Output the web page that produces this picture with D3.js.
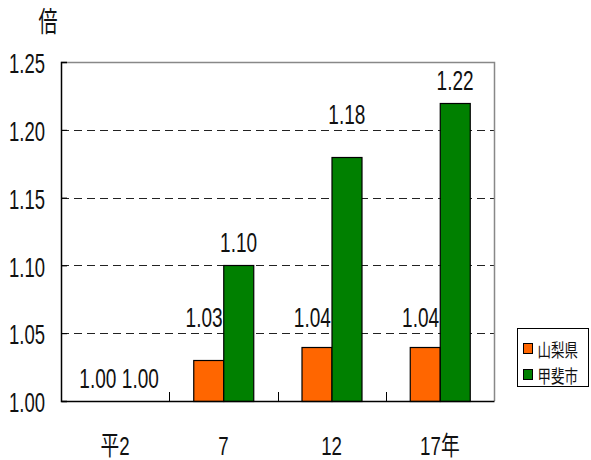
<!DOCTYPE html>
<html>
<head>
<meta charset="utf-8">
<script src="https://cdn.jsdelivr.net/npm/d3@7"></script>
<style>
  body { margin: 0; background: #fff; }
  text { font-family: "Liberation Sans", Arial, "Noto Sans CJK JP", sans-serif; fill: #111; }
</style>
</head>
<body>
<div id="chart"></div>
<script>
// data
var categories = ["平2", "7", "12", "17年"];
var seriesNames = ["山梨県", "甲斐市"];
var yamanashi = [1.00, 1.03, 1.04, 1.04];
var kai = [1.00, 1.10, 1.18, 1.22];
var yTicks = [1.00, 1.05, 1.10, 1.15, 1.20, 1.25];
var colors = ["#ff6600", "#008000"];

var width = 591, height = 460;
var plotLeft = 61, plotRight = 494, plotTop = 62, plotBottom = 401;

// the original font is a tall narrow one, so squeeze text horizontally
function squeeze(sel, sx) {
    sel.each(function () {
        var t = d3.select(this);
        var tx = +t.attr("x") || 0, ty = +t.attr("y") || 0;
        t.attr("x", null).attr("y", null)
            .attr("transform", "translate(" + tx + "," + ty + ") scale(" + sx + ",1)");
    });
}

var svg = d3.select("#chart").append("svg")
    .attr("width", width)
    .attr("height", height);

var x = d3.scaleBand()
    .domain(categories)
    .range([plotLeft, plotRight])
    .paddingInner(0)
    .paddingOuter(0);

var x1 = d3.scaleBand()
    .domain(seriesNames)
    .range([0, x.bandwidth()])
    .paddingInner(0)
    .paddingOuter(0.775);

var y = d3.scaleLinear()
    .domain([1.00, 1.25])
    .range([plotBottom, plotTop]);

var gridVals = yTicks.filter(function (d) { return d > 1.00 && d < 1.25; });

// grid lines
svg.selectAll(".grid")
    .data(gridVals)
    .enter().append("line")
    .attr("class", "grid")
    .attr("x1", plotLeft)
    .attr("x2", plotRight)
    .attr("y1", function (d) { return Math.round(y(d)) + 0.5; })
    .attr("y2", function (d) { return Math.round(y(d)) + 0.5; })
    .style("stroke", "#222")
    .style("stroke-dasharray", "8,5")
    .style("stroke-width", 1);

// plot frame top/right (gray)
svg.append("path")
    .attr("d", "M" + plotLeft + "," + (plotTop + 0.5) + "H" + (plotRight + 0.5) + "V" + plotBottom)
    .style("fill", "none")
    .style("stroke", "#888")
    .style("stroke-width", 1.5);

// bars
var rows = categories.map(function (c, i) {
    return { cat: c, vals: [yamanashi[i], kai[i]] };
});

var group = svg.selectAll(".grp")
    .data(rows)
    .enter().append("g")
    .attr("class", "grp")
    .attr("transform", function (d) { return "translate(" + x(d.cat) + ",0)"; });

function pairs(d) {
    return d.vals.map(function (v, j) { return { v: v, s: seriesNames[j], j: j }; });
}

group.selectAll("rect")
    .data(function (d) { return pairs(d).filter(function (p) { return p.v > 1.00; }); })
    .enter().append("rect")
    .attr("x", function (d) { return Math.round(x1(d.s)) + 0.5; })
    .attr("y", function (d) { return Math.round(y(d.v)) + 0.5; })
    .attr("width", Math.round(x1.bandwidth()))
    .attr("height", function (d) { return plotBottom - Math.round(y(d.v)); })
    .style("fill", function (d) { return colors[d.j]; })
    .style("stroke", "#000")
    .style("stroke-width", 1.2);

// value labels: above the bar, lifted over a grid line when they would cross it
var labelSize = 28;
function labelBase(d) {
    var b = y(d.v) - 13;
    var topEdge = b - 20;
    gridVals.forEach(function (g) {
        var gy = y(g);
        if (gy > topEdge && gy < b + 2) b = gy - 6;
    });
    return b;
}

function labelX(d) {
    var cx = x1(d.s) + x1.bandwidth() / 2;
    if (d.v === 1.00) return cx + (d.j === 0 ? -2 : 10); // pull the two flat labels apart
    return d.j === 0 ? cx - 4 : cx;
}

var labels = group.selectAll(".lbl")
    .data(pairs)
    .enter().append("text")
    .attr("class", "lbl")
    .attr("x", labelX)
    .attr("y", labelBase)
    .attr("text-anchor", "middle")
    .style("font-size", labelSize + "px")
    .text(function (d) { return d.v.toFixed(2); });
squeeze(labels, 0.68);

// axes
var yAxis = d3.axisLeft(y).tickValues(yTicks).tickSize(-6).tickPadding(16)
    .tickFormat(d3.format(".2f"));
var gy = svg.append("g").attr("transform", "translate(" + plotLeft + ",0)").call(yAxis);
gy.select(".domain").style("stroke", "#000").style("stroke-width", 1.5);
gy.selectAll(".tick line").style("stroke", "#000");
gy.selectAll("text").style("font-size", "28px").style("fill", "#111")
    .style("font-family", "'Liberation Sans', Arial, sans-serif")
    .attr("dy", "0.38em");
squeeze(gy.selectAll("text"), 0.66);

var xAxis = d3.axisBottom(x).tickSize(0);
var gx = svg.append("g").attr("transform", "translate(0," + plotBottom + ")").call(xAxis);
gx.select(".domain").style("stroke", "#000").style("stroke-width", 1.5);
gx.selectAll("text").style("font-size", "26px").style("fill", "#111")
    .style("font-family", "'Liberation Sans', 'Noto Sans CJK JP', sans-serif")
    .attr("dy", null)
    .attr("y", 54);
squeeze(gx.selectAll("text"), 0.72);

// category separators
svg.selectAll(".sep")
    .data(categories.slice(1))
    .enter().append("line")
    .attr("x1", function (d) { return Math.round(x(d)) + 0.5; })
    .attr("x2", function (d) { return Math.round(x(d)) + 0.5; })
    .attr("y1", plotBottom)
    .attr("y2", plotBottom - 9)
    .style("stroke", "#000");

// y title
var yTitle = svg.append("text")
    .attr("x", 48)
    .attr("y", 32)
    .attr("text-anchor", "middle")
    .style("font-family", "'Noto Sans CJK JP', sans-serif")
    .style("font-size", "28px")
    .text("倍");
squeeze(yTitle, 0.68);

// legend
var lg = svg.append("g").attr("transform", "translate(517.5,328.5)");
lg.append("rect")
    .attr("width", 71).attr("height", 58)
    .style("fill", "#fff").style("stroke", "#000");
var li = lg.selectAll(".li").data(seriesNames).enter().append("g")
    .attr("transform", function (d, i) { return "translate(6," + (15 + i * 26) + ")"; });
li.append("rect").attr("width", 9).attr("height", 10)
    .style("fill", function (d, i) { return colors[i]; }).style("stroke", "#000");
var lt = li.append("text").attr("x", 14).attr("y", 13)
    .style("font-family", "'Noto Sans CJK JP', sans-serif")
    .style("font-size", "18px")
    .text(function (d) { return d; });
squeeze(lt, 0.75);
</script>
</body>
</html>
